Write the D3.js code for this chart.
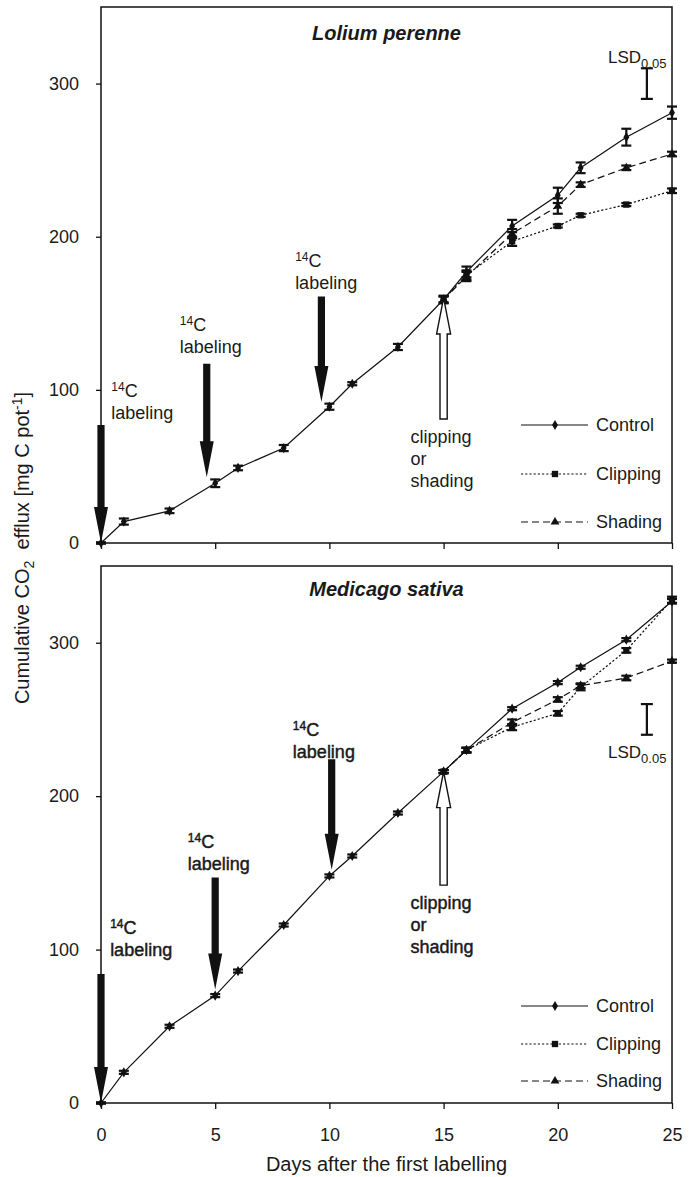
<!DOCTYPE html>
<html>
<head>
<meta charset="utf-8">
<script src="https://cdn.jsdelivr.net/npm/d3@7"></script>
<style>
body { margin: 0; background: #fff; }
text { font-family: "Liberation Sans", Arial, sans-serif; fill: #1a1a1a; }
</style>
</head>
<body>
<script>
// days of measurement
var days = [0, 1, 3, 5, 6, 8, 10, 11, 13, 15, 16, 18, 20, 21, 23, 25];
var treatDays = [15, 16, 18, 20, 21, 23, 25];
var xTicks = [0, 5, 10, 15, 20, 25];
var yTicks = [0, 100, 200, 300];

// Lolium perenne
var lolControl = [0, 14, 21, 39, 49, 62, 89, 104, 128, 159, 177, 207, 227, 245, 265, 281];
var lolControlErr = [0.5, 2, 1.5, 2.5, 1.5, 2, 2, 1, 2, 2.5, 3.5, 4, 5, 3.5, 5.5, 4];
var lolClipping = [159, 175, 197, 207, 214, 221, 230];
var lolClippingErr = [2, 3, 3, 1, 1, 1, 1.5];
var lolShading = [159, 174, 202, 220, 234, 245, 254];
var lolShadingErr = [2, 3, 3, 5, 1.5, 1.5, 1.5];
var lolLsd = [290, 310];

// Medicago sativa
var medControl = [0, 20, 50, 70, 86, 116, 148, 161, 189, 216, 230, 257, 274, 284, 302, 327];
var medControlErr = [0.5, 1, 1, 1, 1, 1, 1, 1, 1, 1, 1.5, 1, 1, 1, 1, 1.5];
var medClipping = [216, 230, 245, 254, 271, 295, 328];
var medClippingErr = [1, 1.5, 2, 1.5, 2, 1.5, 2];
var medShading = [216, 230, 248, 263, 272, 277, 288];
var medShadingErr = [1, 1.5, 2, 1.5, 1.5, 1.5, 1];
var medLsd = [240, 260];

var W = 694, H = 1177;
var svg = d3.select("body").append("svg")
	.attr("width", W)
	.attr("height", H);

var x = d3.scaleLinear().domain([0, 25]).range([101, 672]);

function label14C(g, px, py, bold) {
	var t = g.append("text").attr("x", px).attr("y", py - 22).attr("font-size", 18);
	t.append("tspan").attr("font-size", 12).attr("dy", -6).text("14");
	t.append("tspan").attr("dy", 6).text("C");
	var t2 = g.append("text").attr("x", px).attr("y", py).attr("font-size", 18).text("labeling");
	if (bold) {
		t.attr("stroke", "#1a1a1a").attr("stroke-width", 0.45);
		t2.attr("stroke", "#1a1a1a").attr("stroke-width", 0.45);
	}
}

// block arrow from yTop (tail) to yTip (head), works both ways
function arrowPath(cx, yTail, yTip) {
	var sw = 3.6, hw = 7, hl = 36;
	var dir = yTip > yTail ? 1 : -1;
	var yb = yTip - dir * hl;
	return "M" + (cx - sw) + "," + yTail +
		"L" + (cx + sw) + "," + yTail +
		"L" + (cx + sw) + "," + yb +
		"L" + (cx + hw) + "," + yb +
		"L" + cx + "," + yTip +
		"L" + (cx - hw) + "," + yb +
		"L" + (cx - sw) + "," + yb + "Z";
}

function drawPanel(p) {
	var y = d3.scaleLinear().domain([0, 350]).range([p.bottom, p.top]);
	var g = svg.append("g");

	// frame
	g.append("rect")
		.attr("x", x(0)).attr("y", p.top)
		.attr("width", x(25) - x(0)).attr("height", p.bottom - p.top)
		.attr("fill", "none").attr("stroke", "#111").attr("stroke-width", 1.5);

	// y axis
	var ya = g.append("g")
		.attr("transform", "translate(" + x(0) + ",0)")
		.call(d3.axisLeft(y).tickValues(yTicks).tickSize(5).tickPadding(17));
	ya.select(".domain").remove();
	ya.selectAll("line").attr("stroke", "#111").attr("stroke-width", 1.3);
	ya.selectAll("text").attr("font-size", 18).attr("font-family", "Liberation Sans, Arial, sans-serif").attr("fill", "#1a1a1a");

	// x axis
	var xa = g.append("g")
		.attr("transform", "translate(0," + p.bottom + ")")
		.call(d3.axisBottom(x).tickValues(xTicks).tickSize(6).tickPadding(19)
			.tickFormat(p.showX ? d3.format("d") : function() { return ""; }));
	xa.select(".domain").remove();
	xa.selectAll("line").attr("stroke", "#111").attr("stroke-width", 1.3);
	xa.selectAll("text").attr("font-size", 18).attr("font-family", "Liberation Sans, Arial, sans-serif").attr("fill", "#1a1a1a");

	// title
	g.append("text")
		.attr("x", (x(0) + x(25)) / 2).attr("y", p.top + p.titleDy)
		.attr("text-anchor", "middle")
		.attr("font-size", 20).attr("font-weight", "bold").attr("font-style", "italic")
		.text(p.title);

	var line = d3.line().x(function(d) { return x(d[0]); }).y(function(d) { return y(d[1]); });

	var series = [
		{name: "Control", days: days, vals: p.control, errs: p.controlErr, dash: null, sym: d3.symbolDiamond, size: 30},
		{name: "Clipping", days: treatDays, vals: p.clipping, errs: p.clippingErr, dash: "2.2,2", sym: d3.symbolSquare, size: 40},
		{name: "Shading", days: treatDays, vals: p.shading, errs: p.shadingErr, dash: "7,4", sym: d3.symbolTriangle, size: 34}
	];

	// lines
	series.forEach(function(s) {
		var pts = s.days.map(function(d, i) { return [d, s.vals[i]]; });
		g.append("path")
			.datum(pts)
			.attr("d", line)
			.attr("fill", "none")
			.attr("stroke", "#111")
			.attr("stroke-width", 1.2)
			.attr("stroke-dasharray", s.dash);
	});

	// error bars and markers
	series.forEach(function(s) {
		var pts = s.days.map(function(d, i) { return {d: d, v: s.vals[i], e: s.errs[i]}; });
		var eb = g.append("g").attr("stroke", "#111").attr("stroke-width", 2.2);
		eb.selectAll(".v").data(pts).enter().append("line")
			.attr("x1", function(d) { return x(d.d); }).attr("x2", function(d) { return x(d.d); })
			.attr("y1", function(d) { return y(d.v - d.e); }).attr("y2", function(d) { return y(d.v + d.e); });
		[-1, 1].forEach(function(sg) {
			eb.selectAll(".c" + sg).data(pts).enter().append("line")
				.attr("x1", function(d) { return x(d.d) - 5; }).attr("x2", function(d) { return x(d.d) + 5; })
				.attr("y1", function(d) { return y(d.v + sg * d.e); }).attr("y2", function(d) { return y(d.v + sg * d.e); });
		});
		g.selectAll(null).data(pts).enter().append("path")
			.attr("d", d3.symbol().type(s.sym).size(s.size))
			.attr("transform", function(d) { return "translate(" + x(d.d) + "," + y(d.v) + ")"; })
			.attr("fill", "#111");
	});

	// 14C labelling arrows
	p.arrows.forEach(function(a) {
		g.append("path").attr("d", arrowPath(x(a.day), y(a.from), y(a.to))).attr("fill", "#111");
		label14C(g, x(a.lx), y(a.ly), p.boldNotes);
	});

	// clipping / shading arrow (points up to the day-15 value)
	g.append("path")
		.attr("d", arrowPath(x(15), y(p.openArrow[0]), y(p.openArrow[1])))
		.attr("fill", "#fff").attr("stroke", "#111").attr("stroke-width", 1.4);
	["clipping", "or", "shading"].forEach(function(w, i) {
		var t = g.append("text")
			.attr("x", x(13.55)).attr("y", y(p.openArrow[0]) + 24 + i * 22)
			.attr("font-size", 18).text(w);
		if (p.boldNotes) t.attr("stroke", "#1a1a1a").attr("stroke-width", 0.45);
	});

	// LSD bar
	var lx = x(23.9);
	var lsd = g.append("g").attr("stroke", "#111").attr("stroke-width", 2.2);
	lsd.append("line").attr("x1", lx).attr("x2", lx).attr("y1", y(p.lsd[0])).attr("y2", y(p.lsd[1]));
	lsd.append("line").attr("x1", lx - 6).attr("x2", lx + 6).attr("y1", y(p.lsd[0])).attr("y2", y(p.lsd[0]));
	lsd.append("line").attr("x1", lx - 6).attr("x2", lx + 6).attr("y1", y(p.lsd[1])).attr("y2", y(p.lsd[1]));
	var lt = g.append("text")
		.attr("x", 608)
		.attr("y", p.lsdAbove ? y(p.lsd[1]) - 5 : y(p.lsd[0]) + 23)
		.attr("font-size", 17);
	lt.append("tspan").text("LSD");
	lt.append("tspan").attr("font-size", 13).attr("dy", 5).text("0.05");

	// legend
	var leg = g.append("g").selectAll("g")
		.data(series)
		.enter().append("g")
		.attr("transform", function(d, i) { return "translate(0," + (p.bottom - p.legendOffsets[i]) + ")"; });
	leg.append("line")
		.attr("x1", 521).attr("x2", 588)
		.attr("stroke", "#111").attr("stroke-width", 1.2)
		.attr("stroke-dasharray", function(d) { return d.dash; });
	leg.append("path")
		.attr("d", function(d) { return d3.symbol().type(d.sym).size(d.size)(); })
		.attr("transform", "translate(555,0)")
		.attr("fill", "#111");
	leg.append("text")
		.attr("x", 596).attr("y", 0).attr("dy", "0.35em")
		.attr("font-size", 18)
		.text(function(d) { return d.name; });
}

drawPanel({
	top: 7, bottom: 543, title: "Lolium perenne", titleDy: 33, showX: false, boldNotes: false,
	control: lolControl, controlErr: lolControlErr,
	clipping: lolClipping, clippingErr: lolClippingErr,
	shading: lolShading, shadingErr: lolShadingErr,
	lsd: lolLsd, lsdAbove: true,
	arrows: [
		{day: 0, from: 77, to: 0, lx: 0.45, ly: 81},
		{day: 4.63, from: 117, to: 43, lx: 3.45, ly: 124},
		{day: 9.65, from: 161, to: 92, lx: 8.5, ly: 166}
	],
	openArrow: [81, 160],
	legendOffsets: [118, 69, 21]
});

drawPanel({
	top: 566, bottom: 1103, title: "Medicago sativa", titleDy: 30, showX: true, boldNotes: true,
	control: medControl, controlErr: medControlErr,
	clipping: medClipping, clippingErr: medClippingErr,
	shading: medShading, shadingErr: medShadingErr,
	lsd: medLsd, lsdAbove: false,
	arrows: [
		{day: 0, from: 84, to: 0, lx: 0.4, ly: 96},
		{day: 5, from: 147, to: 74, lx: 3.8, ly: 152},
		{day: 10.1, from: 224, to: 152, lx: 8.4, ly: 225}
	],
	openArrow: [142, 216],
	legendOffsets: [97, 59, 22]
});

// y-axis title
var yt = svg.append("text")
	.attr("transform", "translate(29,548) rotate(-90)")
	.attr("text-anchor", "middle")
	.attr("font-size", 20);
yt.append("tspan").text("Cumulative CO");
yt.append("tspan").attr("font-size", 14).attr("dy", 5).text("2");
yt.append("tspan").attr("dy", -5).text("\u00a0\u00a0efflux [mg C pot");
yt.append("tspan").attr("font-size", 14).attr("dy", -7).text("-1");
yt.append("tspan").attr("dy", 7).text("]");

// x-axis title
svg.append("text")
	.attr("x", (x(0) + x(25)) / 2).attr("y", 1171)
	.attr("text-anchor", "middle")
	.attr("font-size", 20)
	.text("Days after the first labelling");
</script>
</body>
</html>
